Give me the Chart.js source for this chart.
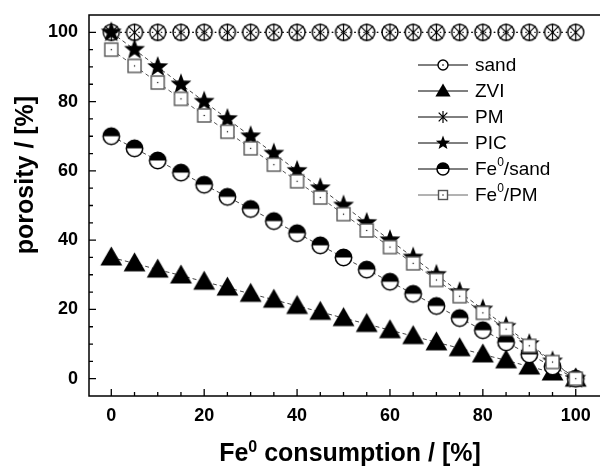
<!DOCTYPE html>
<html>
<head>
<meta charset="utf-8">
<script src="https://cdn.jsdelivr.net/npm/chart.js@4.4.1/dist/chart.umd.min.js"></script>
<style>
  html, body { margin: 0; background: #fff; overflow: hidden; }
  #wrap { width: 600px; height: 466px; position: relative; }
  canvas { display: block; }
</style>
</head>
<body>
<div id="wrap"><canvas id="c"></canvas></div>
<script>
// values
const consumption = [0, 5, 10, 15, 20, 25, 30, 35, 40, 45, 50, 55, 60, 65, 70, 75, 80, 85, 90, 95, 100];
const sand   = [100, 100, 100, 100, 100, 100, 100, 100, 100, 100, 100, 100, 100, 100, 100, 100, 100, 100, 100, 100, 100];
const zvi    = [35, 33.3, 31.5, 29.8, 28, 26.3, 24.5, 22.8, 21, 19.3, 17.5, 15.8, 14, 12.3, 10.5, 8.8, 7, 5.3, 3.5, 1.8, 0];
const pm     = [100, 100, 100, 100, 100, 100, 100, 100, 100, 100, 100, 100, 100, 100, 100, 100, 100, 100, 100, 100, 100];
const pic    = [100, 95, 90, 85, 80, 75, 70, 65, 60, 55, 50, 45, 40, 35, 30, 25, 20, 15, 10, 5, 0];
const feSand = [70, 66.5, 63, 59.5, 56, 52.5, 49, 45.5, 42, 38.5, 35, 31.5, 28, 24.5, 21, 17.5, 14, 10.5, 7, 3.5, 0];
const fePM   = [95, 90.3, 85.5, 80.8, 76, 71.3, 66.5, 61.8, 57, 52.3, 47.5, 42.8, 38, 33.3, 28.5, 23.8, 19, 14.3, 9.5, 4.8, 0];

const seriesNames = ['sand', 'ZVI', 'PM', 'PIC', 'Fe⁰/sand', 'Fe⁰/PM'];
const xTicks = [0, 20, 40, 60, 80, 100];
const yTicks = [0, 20, 40, 60, 80, 100];
const xTitle = 'Fe⁰ consumption / [%]';
const yTitle = 'porosity / [%]';

const FONT = '"Liberation Sans", Arial, sans-serif';

// draw a marker centred on (0,0)
function drawMarker(ctx, kind, r) {
  ctx.save();
  ctx.lineJoin = 'miter';
  if (kind === 'circle') {
    ctx.beginPath(); ctx.arc(0, 0, r, 0, Math.PI * 2);
    ctx.fillStyle = '#fff'; ctx.fill();
    ctx.lineWidth = 1.4; ctx.strokeStyle = '#000'; ctx.stroke();
    ctx.fillStyle = '#000'; ctx.fillRect(-0.7, -0.7, 1.4, 1.4);
  } else if (kind === 'triangle') {
    ctx.beginPath();
    ctx.moveTo(0, -r * 0.95); ctx.lineTo(r * 0.95, r * 0.7); ctx.lineTo(-r * 0.95, r * 0.7); ctx.closePath();
    ctx.fillStyle = '#000'; ctx.fill();
  } else if (kind === 'asterisk') {
    ctx.lineWidth = 1.2; ctx.strokeStyle = '#000';
    const d = r * 0.72;
    ctx.beginPath();
    ctx.moveTo(-d, -d); ctx.lineTo(d, d);
    ctx.moveTo(d, -d); ctx.lineTo(-d, d);
    ctx.moveTo(0, -r); ctx.lineTo(0, r);
    ctx.stroke();
  } else if (kind === 'star') {
    ctx.beginPath();
    for (let i = 0; i < 10; i++) {
      const rr = i % 2 ? r * 0.42 : r;
      const a = -Math.PI / 2 + i * Math.PI / 5;
      const px = Math.cos(a) * rr, py = Math.sin(a) * rr;
      if (i) ctx.lineTo(px, py); else ctx.moveTo(px, py);
    }
    ctx.closePath(); ctx.fillStyle = '#000'; ctx.fill();
  } else if (kind === 'half') {
    ctx.beginPath(); ctx.arc(0, 0, r, 0, Math.PI * 2);
    ctx.fillStyle = '#fff'; ctx.fill();
    ctx.beginPath(); ctx.arc(0, 0, r, Math.PI, Math.PI * 2); ctx.closePath();
    ctx.fillStyle = '#000'; ctx.fill();
    ctx.beginPath(); ctx.arc(0, 0, r, 0, Math.PI * 2);
    ctx.lineWidth = 1.5; ctx.strokeStyle = '#000'; ctx.stroke();
  } else if (kind === 'square') {
    ctx.fillStyle = '#fff'; ctx.fillRect(-r, -r, 2 * r, 2 * r);
    ctx.lineWidth = 1.4; ctx.strokeStyle = '#555'; ctx.strokeRect(-r, -r, 2 * r, 2 * r);
    ctx.fillStyle = '#000'; ctx.fillRect(-0.6, -0.6, 1.2, 1.2);
  }
  ctx.restore();
}

function markerCanvas(kind, r) {
  const size = Math.ceil(r * 2 + 4);
  const c = document.createElement('canvas');
  c.width = size; c.height = size;
  const ctx = c.getContext('2d');
  ctx.translate(size / 2, size / 2);
  drawMarker(ctx, kind, r);
  return c;
}

// text with "⁰" drawn as a raised small zero
function drawRich(ctx, text, x, y, size, weight, align) {
  const parts = text.split('⁰');
  const big = weight + ' ' + size + 'px ' + FONT;
  const small = weight + ' ' + Math.round(size * 0.62) + 'px ' + FONT;
  let total = 0;
  parts.forEach((p, i) => {
    ctx.font = big; total += ctx.measureText(p).width;
    if (i < parts.length - 1) { ctx.font = small; total += ctx.measureText('0').width; }
  });
  let cx = align === 'center' ? x - total / 2 : x;
  ctx.textAlign = 'left';
  parts.forEach((p, i) => {
    ctx.font = big; ctx.fillText(p, cx, y); cx += ctx.measureText(p).width;
    if (i < parts.length - 1) {
      ctx.font = small; ctx.fillText('0', cx, y - size * 0.38); cx += ctx.measureText('0').width;
    }
  });
}

const seriesValues = [sand, zvi, pm, pic, feSand, fePM];
const seriesMarker = ['circle', 'triangle', 'asterisk', 'star', 'half', 'square'];
const plotSize = [8, 11.5, 8.5, 11, 8.2, 6.5];
const legendSize = [5, 8, 6, 7.5, 6, 4.5];
const seriesDash = [[1.5, 3], [4, 3], [1.5, 3], [4, 3], [4, 3], [4, 3]];
const seriesLine = ['#000', '#444', '#000', '#444', '#444', '#555'];

const datasets = seriesNames.map((name, i) => ({
  label: name,
  data: consumption.map((x, j) => ({ x: x, y: seriesValues[i][j] })),
  showLine: true,
  clip: false,
  borderColor: seriesLine[i],
  borderWidth: 1,
  borderDash: seriesDash[i],
  pointStyle: markerCanvas(seriesMarker[i], plotSize[i]),
  pointRadius: plotSize[i],
  order: seriesNames.length - i
}));

const frameTicks = {
  id: 'frameTicks',
  afterDatasetsDraw(chart) {
    const { ctx, chartArea: a, scales: { x, y } } = chart;
    // the original frame runs off the right edge of the picture
    const right = chart.width;
    ctx.save();
    ctx.strokeStyle = '#000';
    ctx.lineWidth = 1.5;
    ctx.beginPath();
    ctx.moveTo(right, a.top); ctx.lineTo(a.left, a.top);
    ctx.lineTo(a.left, a.bottom); ctx.lineTo(right, a.bottom);
    ctx.stroke();
    ctx.lineWidth = 1.3;
    ctx.beginPath();
    for (let k = 0; k < xTicks.length; k++) {
      const px = x.getPixelForValue(xTicks[k]);
      ctx.moveTo(px, a.bottom); ctx.lineTo(px, a.bottom - 7);
      if (k < xTicks.length - 1) {
        const step = (xTicks[k + 1] - xTicks[k]) / 4;
        for (let m = 1; m < 4; m++) {
          const mx = x.getPixelForValue(xTicks[k] + m * step);
          ctx.moveTo(mx, a.bottom); ctx.lineTo(mx, a.bottom - 4);
        }
      }
    }
    for (let k = 0; k < yTicks.length; k++) {
      const py = y.getPixelForValue(yTicks[k]);
      ctx.moveTo(a.left, py); ctx.lineTo(a.left + 7, py);
      if (k < yTicks.length - 1) {
        const step = (yTicks[k + 1] - yTicks[k]) / 4;
        for (let m = 1; m < 4; m++) {
          const my = y.getPixelForValue(yTicks[k] + m * step);
          ctx.moveTo(a.left, my); ctx.lineTo(a.left + 4, my);
        }
      }
    }
    ctx.stroke();
    ctx.restore();
  },
  afterDraw(chart) {
    const { ctx } = chart;
    ctx.save();
    ctx.fillStyle = '#000';
    ctx.textBaseline = 'alphabetic';
    // axis titles
    drawRich(ctx, xTitle, 350, 461, 25, 'bold', 'center');
    ctx.save();
    ctx.translate(33, 175);
    ctx.rotate(-Math.PI / 2);
    drawRich(ctx, yTitle, 0, 0, 25, 'bold', 'center');
    ctx.restore();
    // legend
    ctx.textBaseline = 'middle';
    seriesNames.forEach((name, i) => {
      const ly = 65 + i * 26;
      ctx.strokeStyle = i === 5 ? '#666' : '#000';
      ctx.lineWidth = 1;
      ctx.beginPath(); ctx.moveTo(418, ly); ctx.lineTo(468, ly); ctx.stroke();
      ctx.save(); ctx.translate(443, ly); drawMarker(ctx, seriesMarker[i], legendSize[i]); ctx.restore();
      ctx.fillStyle = '#000';
      drawRich(ctx, name, 475, ly + 1, 19, 'normal', 'left');
    });
    ctx.restore();
  }
};

new Chart(document.getElementById('c'), {
  type: 'scatter',
  data: { datasets: datasets },
  options: {
    responsive: true,
    maintainAspectRatio: false,
    animation: false,
    events: [],
    layout: { padding: { top: 15, right: 0, left: 0, bottom: 0 } },
    plugins: { legend: { display: false }, tooltip: { enabled: false } },
    elements: { line: { tension: 0 } },
    scales: {
      x: {
        type: 'linear', min: -4.8, max: 102.1,
        grid: { display: false, drawTicks: false },
        border: { display: false },
        ticks: { color: '#000', padding: 9, font: { family: FONT, size: 18, weight: 'bold' } },
        afterBuildTicks: s => { s.ticks = xTicks.map(v => ({ value: v })); },
        afterFit: s => { s.height = 70; }
      },
      y: {
        type: 'linear', min: -5, max: 105,
        grid: { display: false, drawTicks: false },
        border: { display: false },
        ticks: { color: '#000', padding: 11, font: { family: FONT, size: 18, weight: 'bold' } },
        afterBuildTicks: s => { s.ticks = yTicks.map(v => ({ value: v })); },
        afterFit: s => { s.width = 89; s.paddingTop = 0; s.paddingBottom = 0; }
      }
    }
  },
  plugins: [frameTicks]
});
</script>
</body>
</html>
